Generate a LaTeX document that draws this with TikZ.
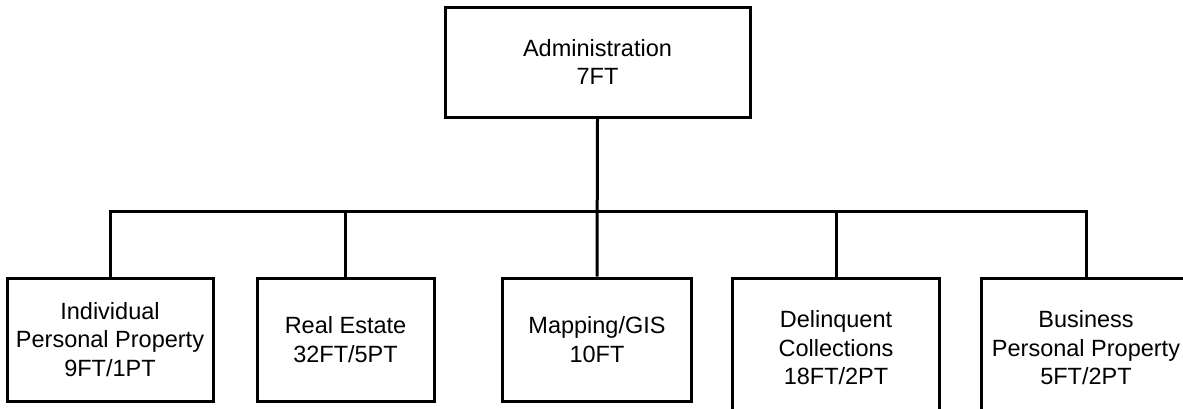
\documentclass[tikz,border=0pt]{standalone}
\usepackage{fontspec}
\setmainfont{Liberation Sans}
\begin{document}
\begin{tikzpicture}[x=1pt,y=-1pt,
  unit/.style={draw=black,line width=3pt,rectangle,inner sep=0pt,align=center,
    font=\fontsize{23.5}{28.5}\selectfont},
  link/.style={draw=black,line width=3pt}]
\clip (0,0) rectangle (1183,408);
\fill[white] (0,0) rectangle (1183,408);
\node[unit,minimum width=305pt,minimum height=110pt] (admin) at (597.5,62) {Administration\\7FT};
\node[unit,minimum width=206pt,minimum height=123pt] (b1) at (110,339.5) {Individual\\Personal Property\\9FT/1PT};
\node[unit,minimum width=177pt,minimum height=123pt] (b2) at (345.5,339.5) {Real Estate\\32FT/5PT};
\node[unit,minimum width=189pt,minimum height=123pt] (b3) at (597,339.5) {Mapping/GIS\\10FT};
\node[unit,minimum width=207pt,minimum height=140pt] (b4) at (836,348) {Delinquent\\Collections\\18FT/2PT};
\node[unit,minimum width=210pt,minimum height=140pt] (b5) at (1086,348) {Business\\Personal Property\\5FT/2PT};
\coordinate (bus) at (597.5,211);
\draw[link] (admin.south) -- (b3.north);
\draw[link] (b1.north) |- (bus) -| (b5.north);
\draw[link] (bus) -| (b2.north);
\draw[link] (bus) -| (b4.north);
\end{tikzpicture}
\end{document}
